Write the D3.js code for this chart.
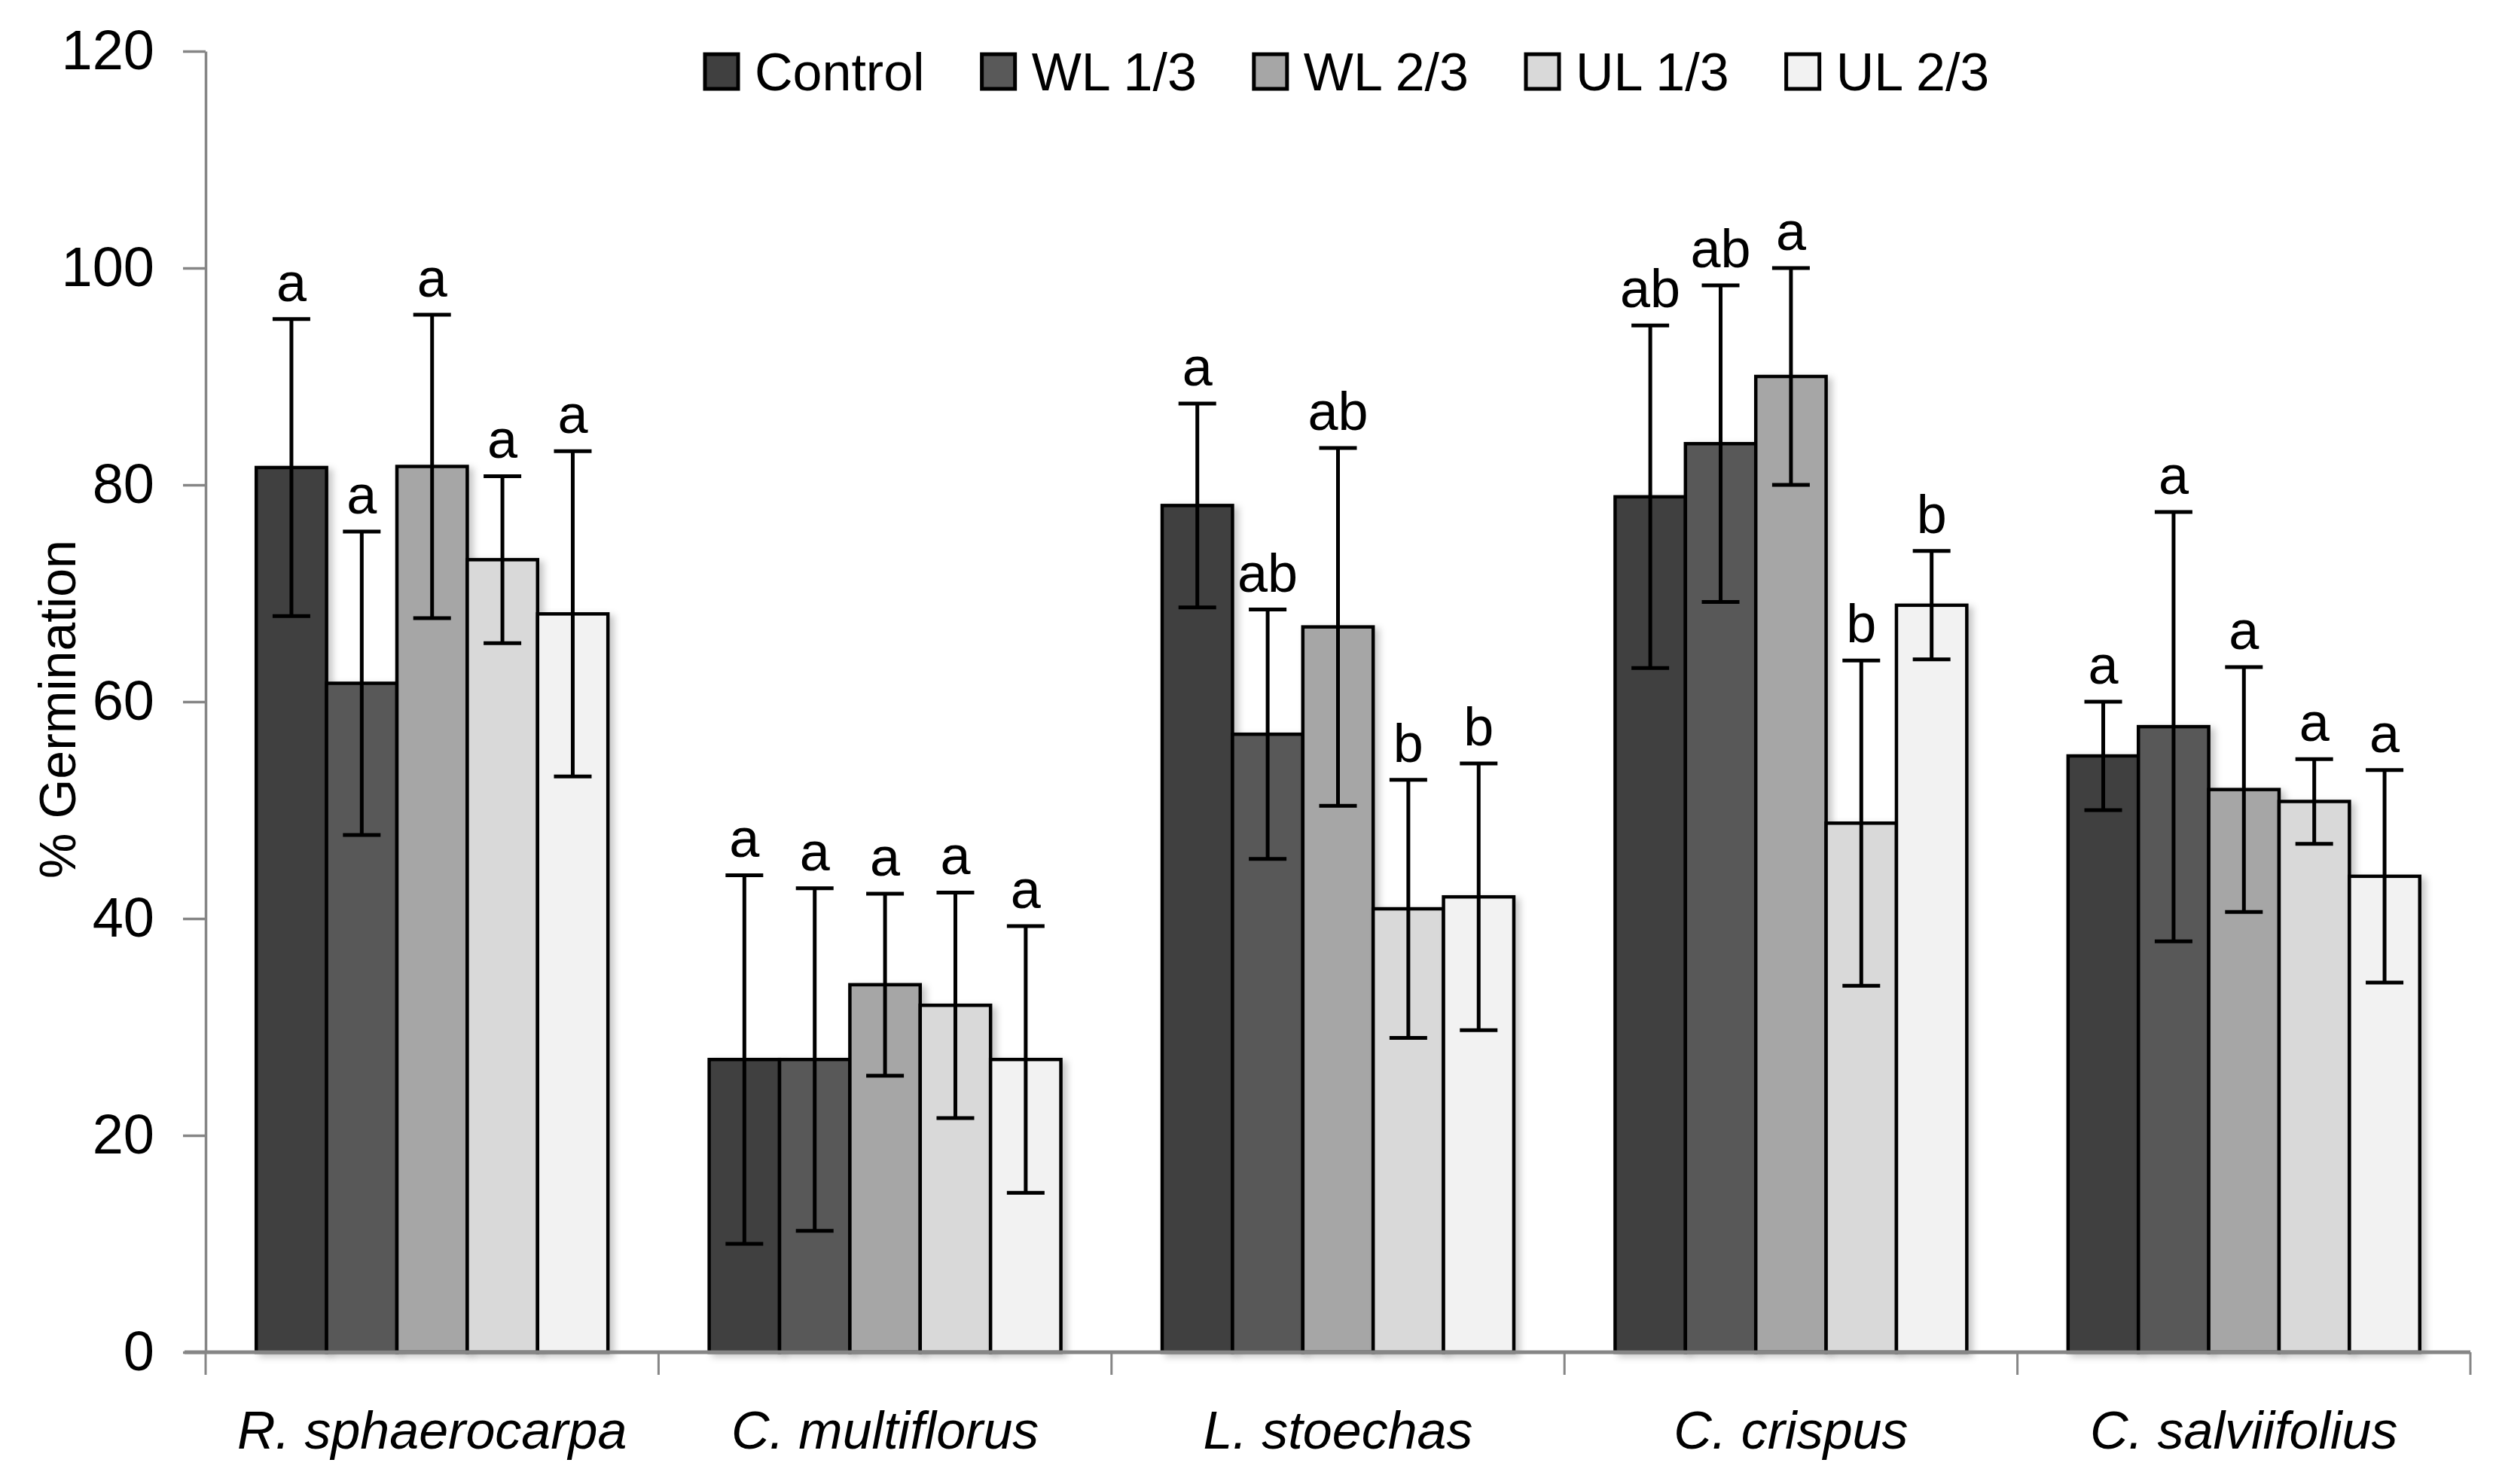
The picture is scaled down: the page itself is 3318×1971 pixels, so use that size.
<!DOCTYPE html>
<html>
<head>
<meta charset="utf-8">
<script src="https://cdn.jsdelivr.net/npm/d3@7"></script>
<style>
  html, body { margin: 0; background: #fff; }
  text { font-family: "Liberation Sans", Arial, sans-serif; }
</style>
</head>
<body>
<div id="chart"></div>
<script>
/* ── Data ───────────────────────────────────────────────────── */
const species    = ['R. sphaerocarpa', 'C. multiflorus', 'L. stoechas', 'C. crispus', 'C. salviifolius'];
const treatments = ['Control', 'WL 1/3', 'WL 2/3', 'UL 1/3', 'UL 2/3'];

const controlMean = [81.6, 27.0, 78.1, 78.9, 55.0];
const wl13Mean    = [61.7, 27.0, 57.0, 83.8, 57.7];
const wl23Mean    = [81.7, 33.9, 66.9, 90.0, 51.9];
const ul13Mean    = [73.1, 32.0, 40.9, 48.8, 50.8];
const ul23Mean    = [68.1, 27.0, 42.0, 68.9, 43.9];

const controlErr = [13.7, 17.0,  9.4, 15.8,  5.0];
const wl13Err    = [14.0, 15.8, 11.5, 14.6, 19.8];
const wl23Err    = [14.0,  8.4, 16.5, 10.0, 11.3];
const ul13Err    = [ 7.7, 10.4, 11.9, 15.0,  3.9];
const ul23Err    = [15.0, 12.3, 12.3,  5.0,  9.8];

const controlSig = ['a', 'a', 'a',  'ab', 'a'];
const wl13Sig    = ['a', 'a', 'ab', 'ab', 'a'];
const wl23Sig    = ['a', 'a', 'ab', 'a',  'a'];
const ul13Sig    = ['a', 'a', 'b',  'b',  'a'];
const ul23Sig    = ['a', 'a', 'b',  'b',  'a'];

const yTicks = [0, 20, 40, 60, 80, 100, 120];

const fills = ['#404040', '#595959', '#a6a6a6', '#d9d9d9', '#f2f2f2'];

/* ── Build rows ─────────────────────────────────────────────── */
const meanSets = [controlMean, wl13Mean, wl23Mean, ul13Mean, ul23Mean];
const errSets  = [controlErr, wl13Err, wl23Err, ul13Err, ul23Err];
const sigSets  = [controlSig, wl13Sig, wl23Sig, ul13Sig, ul23Sig];

const rows = [];
species.forEach((sp, i) => {
  treatments.forEach((t, j) => {
    rows.push({ sp, t, j, mean: meanSets[j][i], err: errSets[j][i], sig: sigSets[j][i] });
  });
});

/* ── Geometry ───────────────────────────────────────────────── */
const W = 3318, H = 1971;
const L = 273, R = 3280, T = 68, B = 1796;
const AXIS = '#868686';

const svg = d3.select('#chart').append('svg')
  .attr('width', W).attr('height', H)
  .style('display', 'block');

svg.append('rect').attr('width', W).attr('height', H).attr('fill', '#fff');

const defs = svg.append('defs');
const f = defs.append('filter').attr('id', 'shadow')
  .attr('x', '-20%').attr('y', '-5%').attr('width', '150%').attr('height', '115%');
f.append('feDropShadow')
  .attr('dx', 6).attr('dy', 4).attr('stdDeviation', 5)
  .attr('flood-color', '#000').attr('flood-opacity', 0.22);

const x0 = d3.scaleBand().domain(species).range([L, R]).padding(0);
const x1 = d3.scaleBand().domain(treatments).range([0, x0.bandwidth()])
  .paddingInner(0).paddingOuter(0.72);
const y = d3.scaleLinear().domain([0, 120]).range([B, T]);

/* ── Bars ───────────────────────────────────────────────────── */
svg.append('g').selectAll('rect')
  .data(rows)
  .join('rect')
  .attr('x', d => x0(d.sp) + x1(d.t))
  .attr('y', d => y(d.mean))
  .attr('width', x1.bandwidth())
  .attr('height', d => y(0) - y(d.mean))
  .attr('fill', d => fills[d.j])
  .attr('stroke', '#000')
  .attr('stroke-width', 4.5)
  .attr('filter', 'url(#shadow)');

/* ── Y axis ─────────────────────────────────────────────────── */
const yAxis = svg.append('g')
  .attr('transform', `translate(${L},0)`)
  .call(d3.axisLeft(y).tickValues(yTicks).tickSize(30).tickSizeOuter(0).tickPadding(38));
yAxis.select('.domain').attr('stroke', AXIS).attr('stroke-width', 3.5);
yAxis.selectAll('.tick line').attr('stroke', AXIS).attr('stroke-width', 3.5);
yAxis.selectAll('.tick text')
  .attr('font-size', 74).attr('fill', '#000')
  .attr('font-family', '"Liberation Sans", Arial, sans-serif');

/* ── X axis ─────────────────────────────────────────────────── */
svg.append('line')
  .attr('x1', L - 28).attr('x2', R)
  .attr('y1', y(0)).attr('y2', y(0))
  .attr('stroke', AXIS).attr('stroke-width', 5);

const bounds = species.map(s => x0(s)).concat([x0(species[species.length - 1]) + x0.bandwidth()]);
svg.append('g').selectAll('line')
  .data(bounds)
  .join('line')
  .attr('x1', d => d).attr('x2', d => d)
  .attr('y1', y(0)).attr('y2', y(0) + 30)
  .attr('stroke', AXIS).attr('stroke-width', 3);

const xAxis = svg.append('g')
  .attr('transform', `translate(0,${y(0)})`)
  .call(d3.axisBottom(x0).tickSize(0).tickPadding(78));
xAxis.select('.domain').remove();
xAxis.selectAll('.tick text')
  .attr('font-size', 70).attr('font-style', 'italic').attr('fill', '#000')
  .attr('font-family', '"Liberation Sans", Arial, sans-serif');

/* ── Error bars ─────────────────────────────────────────────── */
const CAP = 25;
const eg = svg.append('g').attr('stroke', '#000').attr('stroke-width', 5);
rows.forEach(d => {
  const cx = x0(d.sp) + x1(d.t) + x1.bandwidth() / 2;
  const yt = y(d.mean + d.err), yb = y(d.mean - d.err);
  eg.append('line').attr('x1', cx).attr('x2', cx).attr('y1', yt).attr('y2', yb);
  eg.append('line').attr('x1', cx - CAP).attr('x2', cx + CAP).attr('y1', yt).attr('y2', yt);
  eg.append('line').attr('x1', cx - CAP).attr('x2', cx + CAP).attr('y1', yb).attr('y2', yb);
});

/* ── Significance letters ───────────────────────────────────── */
svg.append('g').selectAll('text')
  .data(rows)
  .join('text')
  .attr('x', d => x0(d.sp) + x1(d.t) + x1.bandwidth() / 2)
  .attr('y', d => y(d.mean + d.err) - 24)
  .attr('text-anchor', 'middle')
  .attr('font-size', 72)
  .attr('fill', '#000')
  .text(d => d.sig);

/* ── Y title ────────────────────────────────────────────────── */
svg.append('text')
  .attr('transform', `translate(100,${(y(0) + y(120)) / 2 + 10}) rotate(-90)`)
  .attr('text-anchor', 'middle')
  .attr('font-size', 68)
  .attr('fill', '#000')
  .text('% Germination');

/* ── Legend ─────────────────────────────────────────────────── */
const legend = svg.append('g');
let lx = 936;
treatments.forEach((t, j) => {
  legend.append('rect')
    .attr('x', lx).attr('y', 72)
    .attr('width', 44).attr('height', 46)
    .attr('fill', fills[j]).attr('stroke', '#000').attr('stroke-width', 5);
  const txt = legend.append('text')
    .attr('x', lx + 66).attr('y', 120)
    .attr('font-size', 70).attr('fill', '#000')
    .text(t);
  lx += 66 + txt.node().getComputedTextLength() + 76;
});
</script>
</body>
</html>
